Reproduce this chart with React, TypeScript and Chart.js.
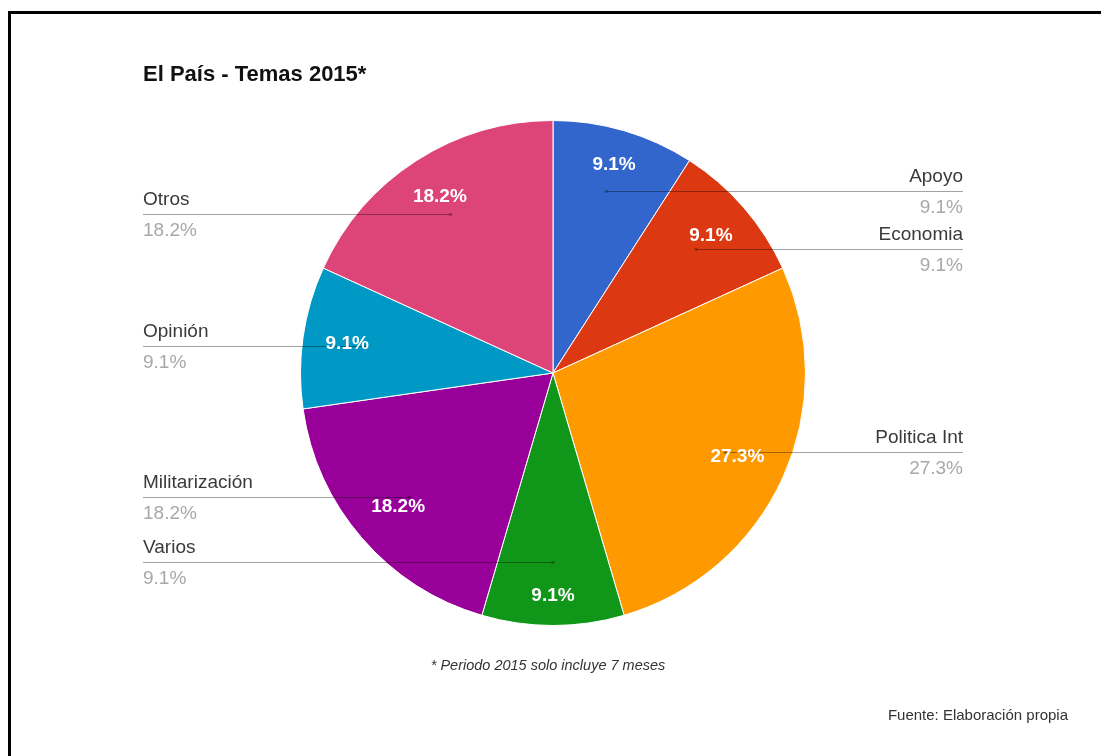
import React, { useEffect, useRef } from 'react';
import { Chart, registerables } from 'chart.js';

Chart.register(...registerables);

const categories = ['Apoyo', 'Economia', 'Politica Int', 'Varios', 'Militarización', 'Opinión', 'Otros'];
const values = [1, 1, 3, 1, 2, 1, 2];
const colors = ['#3366cc', '#dc3912', '#ff9900', '#109618', '#990099', '#0099c6', '#dd4477'];
const titleText = 'El País - Temas 2015*';
const noteText = '* Periodo 2015 solo incluye 7 meses';
const sourceText = 'Fuente: Elaboración propia';

const FONT = '"Liberation Sans", Arial, sans-serif';
const total = values.reduce((a, b) => a + b, 0);
const pct = (v: number) => ((v / total) * 100).toFixed(1) + '%';

const labelPlugin = {
  id: 'gLabels',
  beforeDraw(chart: any) {
    const ctx = chart.ctx;
    ctx.save();
    ctx.fillStyle = '#000';
    ctx.fillRect(8, 11, 1101, 3);
    ctx.fillRect(8, 11, 3, 756);
    ctx.restore();
  },
  afterDatasetsDraw(chart: any) {
    const ctx = chart.ctx;
    const meta = chart.getDatasetMeta(0);
    const leftX = 143;
    const rightX = 963;
    ctx.save();
    meta.data.forEach((arc: any, i: number) => {
      const p = arc.getProps(['x', 'y', 'startAngle', 'endAngle', 'outerRadius'], true);
      const a = (p.startAngle + p.endAngle) / 2;
      const ax = p.x + p.outerRadius * 0.75 * Math.cos(a);
      const ay = p.y + p.outerRadius * 0.75 * Math.sin(a);
      const right = ax > p.x + 1;
      // leader line
      ctx.strokeStyle = 'rgba(0,0,0,0.36)';
      ctx.lineWidth = 1;
      ctx.beginPath();
      const ly = Math.round(ay) + 0.5;
      if (right) {
        ctx.moveTo(ax, ly);
        ctx.lineTo(rightX, ly);
      } else {
        ctx.moveTo(leftX, ly);
        ctx.lineTo(ax, ly);
      }
      ctx.stroke();
      ctx.fillStyle = 'rgba(0,0,0,0.25)';
      ctx.beginPath();
      ctx.arc(ax, ly, 1.8, 0, Math.PI * 2);
      ctx.fill();
      // legend texts
      ctx.textBaseline = 'middle';
      ctx.textAlign = right ? 'right' : 'left';
      const tx = right ? rightX : leftX;
      ctx.font = '19px ' + FONT;
      ctx.fillStyle = '#3a3a3a';
      ctx.fillText(categories[i], tx, ly - 15);
      ctx.fillStyle = '#a8a8a8';
      ctx.fillText(pct(values[i]), tx, ly + 16);
    });
    // slice labels
    meta.data.forEach((arc: any, i: number) => {
      const p = arc.getProps(['x', 'y', 'startAngle', 'endAngle', 'outerRadius'], true);
      const a = (p.startAngle + p.endAngle) / 2;
      const txt = pct(values[i]);
      ctx.font = 'bold 19px ' + FONT;
      const hw = ctx.measureText(txt).width / 2;
      const hh = 8;
      const d = p.outerRadius - 22 - (hw * Math.abs(Math.cos(a)) + hh * Math.abs(Math.sin(a)));
      ctx.textAlign = 'center';
      ctx.textBaseline = 'middle';
      ctx.fillStyle = '#ffffff';
      ctx.fillText(txt, p.x + d * Math.cos(a), p.y + d * Math.sin(a));
    });
    // title & notes
    ctx.textBaseline = 'middle';
    ctx.textAlign = 'left';
    ctx.fillStyle = '#111111';
    ctx.font = 'bold 22px ' + FONT;
    ctx.fillText(titleText, 143, 75);
    ctx.font = 'italic 14.5px ' + FONT;
    ctx.fillStyle = '#333333';
    ctx.textAlign = 'center';
    ctx.fillText(noteText, 548, 666);
    ctx.font = '15px ' + FONT;
    ctx.textAlign = 'right';
    ctx.fillText(sourceText, 1068, 716);
    ctx.restore();
  },
};

export default function App() {
  const ref = useRef<HTMLCanvasElement>(null);
  useEffect(() => {
    if (!ref.current) return;
    const chart = new Chart(ref.current, {
      type: 'pie',
      data: {
        labels: categories,
        datasets: [
          {
            data: values,
            backgroundColor: colors,
            borderColor: '#ffffff',
            borderWidth: 1,
          },
        ],
      },
      options: {
        responsive: false,
        animation: false,
        layout: { padding: { left: 300, right: 295, top: 120, bottom: 130 } },
        plugins: {
          legend: { display: false },
          tooltip: { enabled: false },
          title: { display: false },
        },
      },
      plugins: [labelPlugin],
    });
    return () => chart.destroy();
  }, []);
  return (
    <div style={{ position: 'absolute', left: 0, top: 0, width: 1101, height: 756, background: '#fff' }}>
      <canvas ref={ref} width={1101} height={756} />
    </div>
  );
}
